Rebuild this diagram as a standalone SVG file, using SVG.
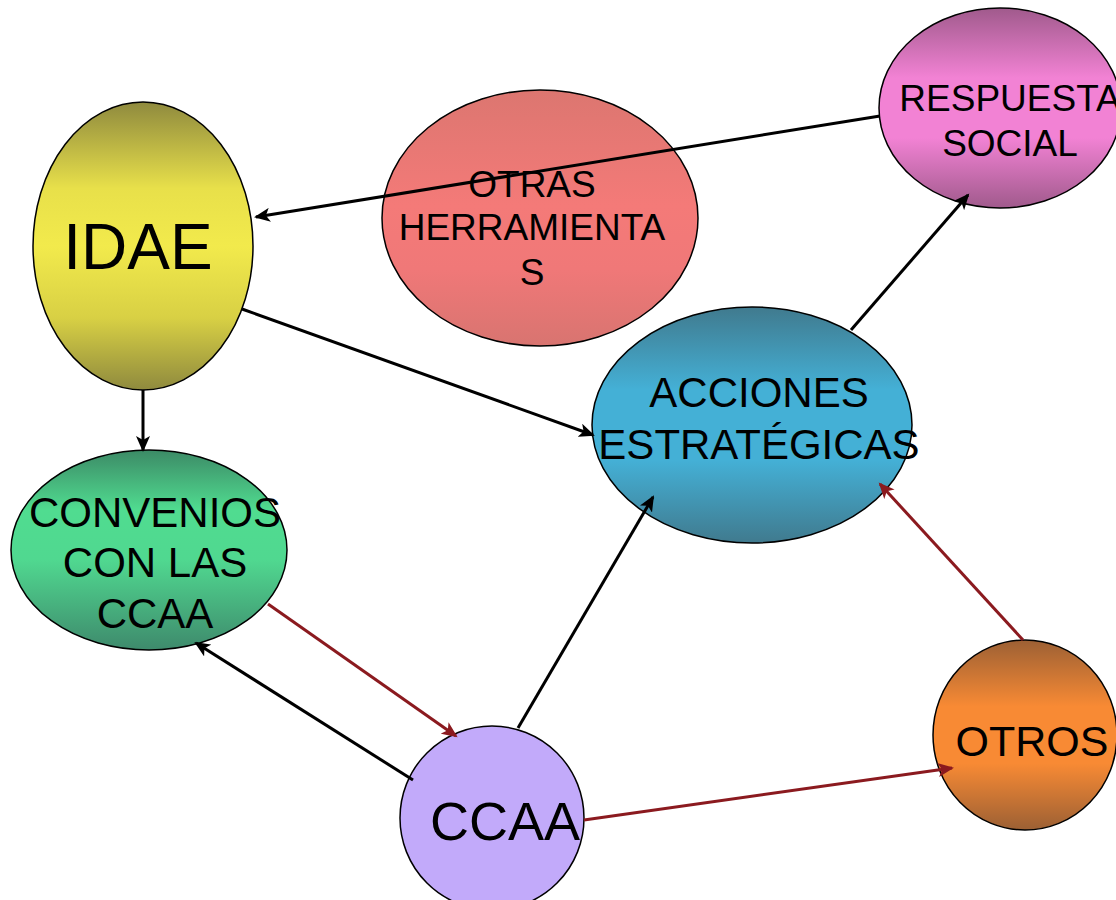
<svg xmlns="http://www.w3.org/2000/svg" width="1116" height="900" viewBox="0 0 1116 900">
<style>
.n{stroke:#000;stroke-width:1.5}
.t{font-family:"Liberation Sans",Arial,sans-serif;text-anchor:middle;fill:#000}
.k{stroke:#000;stroke-width:3;fill:none}
.r{stroke:#8b1a1f;stroke-width:3;fill:none}
</style>
<defs>
<marker id="ak" markerUnits="userSpaceOnUse" markerWidth="18" markerHeight="14" refX="14" refY="7" orient="auto"><path d="M0,0 L16,7 L0,14 L4,7 z" fill="#000"/></marker>
<marker id="ar" markerUnits="userSpaceOnUse" markerWidth="18" markerHeight="14" refX="14" refY="7" orient="auto"><path d="M0,0 L16,7 L0,14 L4,7 z" fill="#8b1a1f"/></marker>
<linearGradient id="gI" x1="0" y1="0" x2="0" y2="1"><stop offset="0" stop-color="#8f8a3e"/><stop offset="0.3" stop-color="#e8e04a"/><stop offset="0.5" stop-color="#f2ea4c"/><stop offset="0.75" stop-color="#d8d044"/><stop offset="1" stop-color="#8f8a3e"/></linearGradient>
<linearGradient id="gO" x1="0" y1="0" x2="0" y2="1"><stop offset="0" stop-color="#dc7670"/><stop offset="0.45" stop-color="#f47a78"/><stop offset="0.7" stop-color="#f07878"/><stop offset="1" stop-color="#d87470"/></linearGradient>
<linearGradient id="gR" x1="0" y1="0" x2="0" y2="1"><stop offset="0" stop-color="#a05a8c"/><stop offset="0.35" stop-color="#f282d4"/><stop offset="0.65" stop-color="#f282d4"/><stop offset="1" stop-color="#a05a8c"/></linearGradient>
<linearGradient id="gA" x1="0" y1="0" x2="0" y2="1"><stop offset="0" stop-color="#407a8e"/><stop offset="0.35" stop-color="#44b0d6"/><stop offset="0.65" stop-color="#44b0d6"/><stop offset="1" stop-color="#407a8e"/></linearGradient>
<linearGradient id="gC" x1="0" y1="0" x2="0" y2="1"><stop offset="0" stop-color="#3c8a66"/><stop offset="0.3" stop-color="#50dc90"/><stop offset="0.55" stop-color="#50d890"/><stop offset="1" stop-color="#3e8a6c"/></linearGradient>
<linearGradient id="gT" x1="0" y1="0" x2="0" y2="1"><stop offset="0" stop-color="#9c6034"/><stop offset="0.35" stop-color="#f88a34"/><stop offset="0.65" stop-color="#f88a34"/><stop offset="1" stop-color="#9c6034"/></linearGradient>
</defs>
<rect width="1116" height="900" fill="#fff"/>
<g id="otras"><ellipse class="n" cx="540" cy="218" rx="158" ry="128" fill="url(#gO)"/>
<text class="t" font-size="37" x="532" y="197">OTRAS</text><text class="t" font-size="37" x="532" y="240">HERRAMIENTA</text><text class="t" font-size="37" x="532" y="285">S</text></g>
<g id="idae"><ellipse class="n" cx="143" cy="246" rx="110" ry="144" fill="url(#gI)"/>
<text class="t" font-size="64" x="138" y="269">IDAE</text></g>
<g id="respuesta"><ellipse class="n" cx="1000" cy="108" rx="121" ry="100" fill="url(#gR)"/>
<text class="t" font-size="37" x="1010" y="111">RESPUESTA</text><text class="t" font-size="37" x="1010" y="156">SOCIAL</text></g>
<g id="acciones"><ellipse class="n" cx="752" cy="425" rx="160" ry="118" fill="url(#gA)"/>
<text class="t" font-size="42" x="759" y="407">ACCIONES</text><text class="t" font-size="42" x="759" y="459">ESTRATÉGICAS</text></g>
<g id="convenios"><ellipse class="n" cx="149" cy="550" rx="138" ry="100" fill="url(#gC)"/>
<text class="t" font-size="42" x="155" y="527">CONVENIOS</text><text class="t" font-size="42" x="155" y="577">CON LAS</text><text class="t" font-size="42" x="155" y="628">CCAA</text></g>
<g id="ccaa"><ellipse class="n" cx="492" cy="818" rx="92" ry="92" fill="#c2aafa"/>
<text class="t" font-size="54" x="505" y="840">CCAA</text></g>
<g id="otros"><ellipse class="n" cx="1025" cy="735" rx="92" ry="95" fill="url(#gT)"/>
<text class="t" font-size="43" x="1032" y="756">OTROS</text></g>
<g id="connectors">
<line class="k" x1="880" y1="116" x2="256" y2="217" marker-end="url(#ak)"/>
<line class="k" x1="242" y1="309" x2="593" y2="435" marker-end="url(#ak)"/>
<line class="k" x1="143" y1="390" x2="143" y2="450" marker-end="url(#ak)"/>
<line class="k" x1="851" y1="330" x2="968" y2="195" marker-end="url(#ak)"/>
<line class="k" x1="413" y1="780" x2="196" y2="643" marker-end="url(#ak)"/>
<line class="k" x1="518" y1="728" x2="653" y2="497" marker-end="url(#ak)"/>
<line class="r" x1="268" y1="604" x2="456" y2="736" marker-end="url(#ar)"/>
<line class="r" x1="584" y1="820" x2="952" y2="768" marker-end="url(#ar)"/>
<line class="r" x1="1023" y1="640" x2="880" y2="484" marker-end="url(#ar)"/>
</g>
</svg>
